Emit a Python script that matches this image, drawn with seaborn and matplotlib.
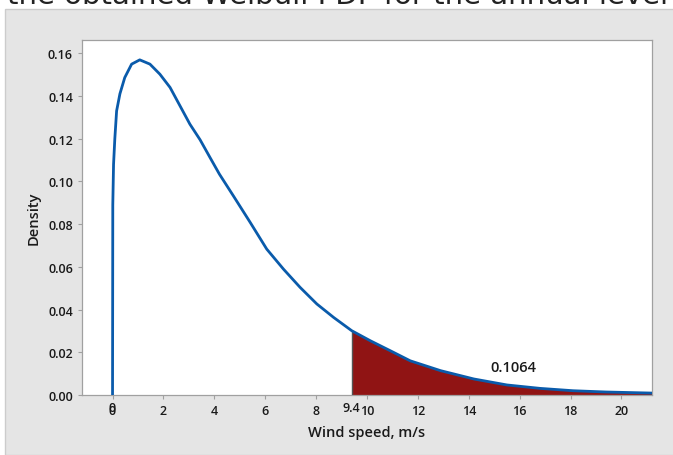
import numpy as np
import pandas as pd
import seaborn as sns
import matplotlib.pyplot as plt
from matplotlib.patches import Rectangle
from matplotlib.transforms import blended_transform_factory

# Weibull PDF (wind speed, density)
wind = [0.0, 0.01, 0.04, 0.09, 0.16, 0.29, 0.48, 0.75, 1.07, 1.47, 1.86, 2.26,
        2.65, 3.04, 3.44, 3.83, 4.2, 4.75, 5.41, 6.06, 6.72, 7.37, 8.03, 8.69,
        9.4, 10.13, 10.92, 11.7, 12.89, 14.2, 15.5, 16.8, 18.1, 19.4, 21.2]
density = [0.0, 0.089, 0.108, 0.120, 0.133, 0.141, 0.1486, 0.1549, 0.1569, 0.1549,
           0.1502, 0.144, 0.1354, 0.1268, 0.1195, 0.1112, 0.1034, 0.0932, 0.0808,
           0.0683, 0.0589, 0.0504, 0.0426, 0.0363, 0.0301, 0.0254, 0.0207, 0.016,
           0.0114, 0.0075, 0.0047, 0.0031, 0.002, 0.0014, 0.0009]
cutoff = 9.4
tail_prob = 0.1064
lower_mark = 0
x_ticks = [0, 2, 4, 6, 8, 10, 12, 14, 16, 18, 20]
y_ticks = [0.00, 0.02, 0.04, 0.06, 0.08, 0.10, 0.12, 0.14, 0.16]

df = pd.DataFrame({'wind': wind, 'density': density})
tail = df[df['wind'] >= cutoff]

sns.set_style('white')
plt.rcParams['font.family'] = ['Open Sans', 'DejaVu Sans']

fig = plt.figure(figsize=(6.73, 4.56), dpi=100)
fig.patch.set_facecolor('white')
fig.add_artist(Rectangle((5 / 673, 0), 1, 1 - 10 / 456, transform=fig.transFigure,
                         facecolor='#e5e5e5', edgecolor='#cccccc', lw=1, zorder=0))
# caption line from the page above, mostly cut off at the top edge
fig.text(0.01, 1 - 4 / 456, 'the obtained Weibull PDF for the annual level',
         fontsize=21, color='#222222', va='baseline', ha='left', family='DejaVu Sans')

ax = fig.add_axes([82 / 673, 1 - 396 / 456, (652 - 82) / 673, (396 - 41) / 456])
ax.set_facecolor('white')

ax.fill_between(tail['wind'], 0, tail['density'], color='#901414', lw=0, zorder=2)
ax.vlines(cutoff, 0, tail['density'].iloc[0], color='#555555', lw=1, zorder=3)
sns.lineplot(data=df, x='wind', y='density', estimator=None, sort=False,
             color='#0a5bab', lw=2, ax=ax, zorder=4)

ax.set_xlim(-1.2, 21.2)
ax.set_ylim(0, 0.1662)
ax.set_xticks(x_ticks)
ax.set_xticklabels([str(t) for t in x_ticks])
ax.set_yticks(y_ticks)
ax.set_yticklabels([f'{t:.2f}' for t in y_ticks])
ax.tick_params(axis='both', direction='out', length=3, width=0.8, color='#a0a0a0',
               labelsize=9, labelcolor='#1a1a1a', pad=3.5, bottom=True, left=True)
for lab in ax.get_xticklabels() + ax.get_yticklabels():
    lab.set_fontweight('semibold')
for s in ax.spines.values():
    s.set_color('#a0a0a0')
    s.set_linewidth(0.9)

# reference-line labels drawn by the tool, slightly above the regular ticks
trans = blended_transform_factory(ax.transData, ax.transAxes)
for v, lab in [(lower_mark, '0'), (cutoff, '9.4')]:
    ax.text(v, -0.017, lab, transform=trans, ha='center', va='top',
            fontsize=9, fontweight='semibold', color='#1a1a1a')

ax.text(15.75, 0.0131, f'{tail_prob:.4f}', ha='center', va='center',
        fontsize=10.5, fontweight='semibold', color='#1a1a1a', zorder=5)

ax.set_xlabel('Wind speed, m/s', fontsize=10.5, fontweight='semibold',
              color='#1a1a1a', labelpad=6)
ax.set_ylabel('Density', fontsize=10.5, fontweight='semibold',
              color='#1a1a1a', labelpad=5)

fig.savefig('out.png', dpi=100)
